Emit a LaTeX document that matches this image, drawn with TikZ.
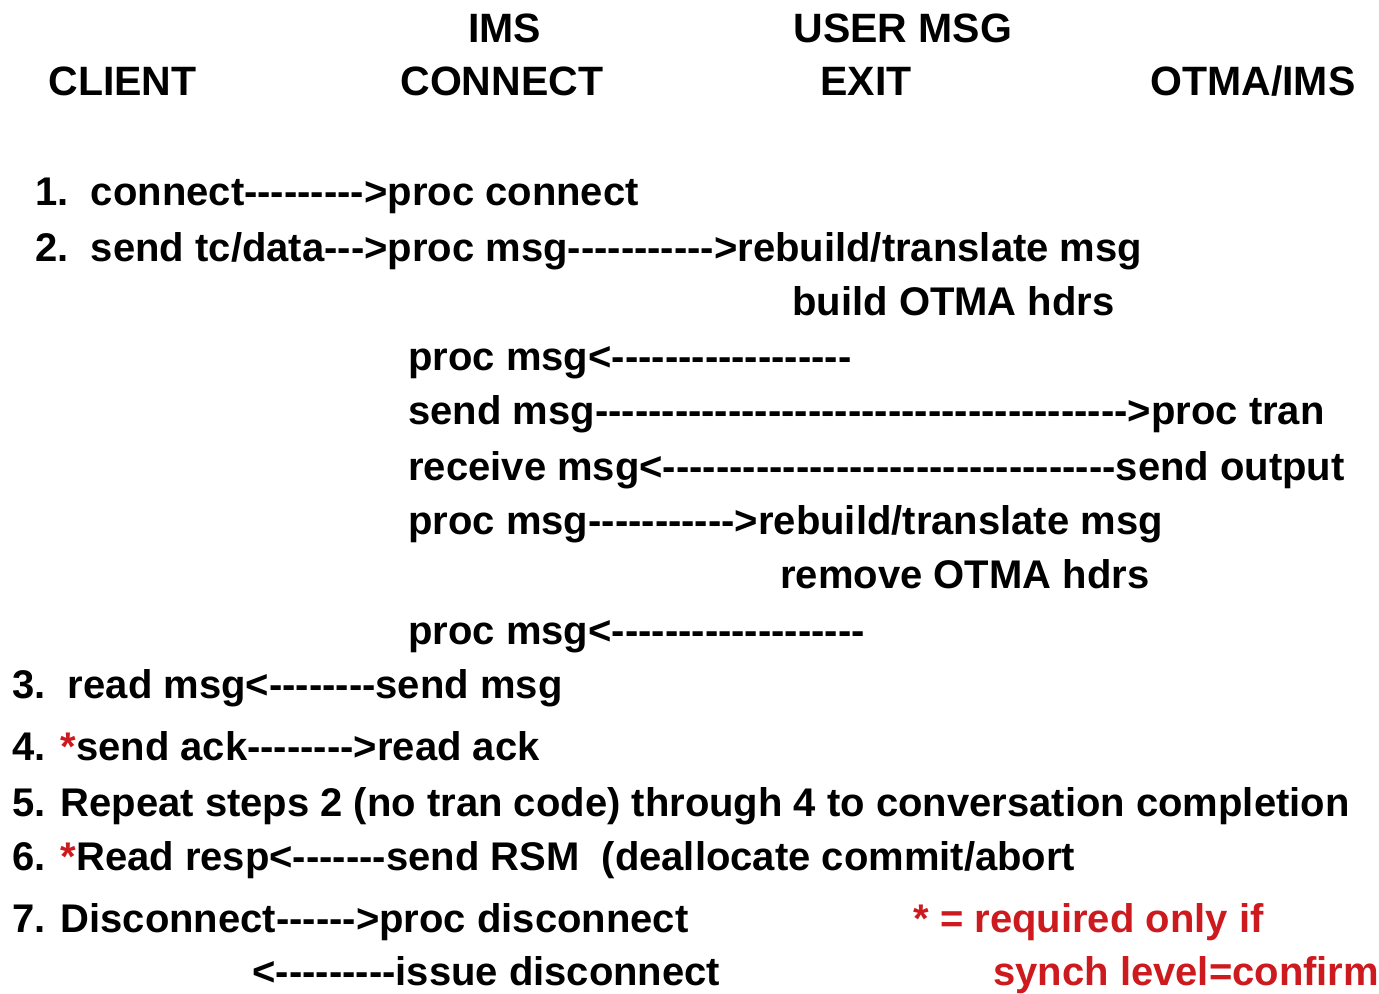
\documentclass[tikz,border=0pt]{standalone}
\usepackage{fontspec}
\newfontfamily\bodyfam{Liberation Sans}[Ligatures=NoCommon]
\usepackage{xcolor}
\definecolor{noteRed}{RGB}{204,26,30}
\newcommand{\redstar}{\textcolor{noteRed}{*}}
\tikzset{
  hdr/.style      = {anchor=base west,inner sep=0pt,font=\bodyfam\bfseries\fontsize{20.5}{24}\selectfont},
  msgline/.style  = {anchor=base west,inner sep=0pt,font=\bodyfam\bfseries\fontsize{20}{24}\selectfont},
  noteline/.style = {msgline,text=noteRed}
}

\begin{document}
\begin{tikzpicture}[x=0.5pt,y=-0.5pt]
  \useasboundingbox (0,0) rectangle (1379,993);
  % column heads
  \node[hdr] (hdrIms)     at (468,42)  {IMS};
  \node[hdr] (hdrUser)    at (793,42)  {USER MSG};
  \node[hdr] (hdrClient)  at (48,95)   {CLIENT};
  \node[hdr] (hdrConnect) at (400,95)  {CONNECT};
  \node[hdr] (hdrExit)    at (820,95)  {EXIT};
  \node[hdr] (hdrOtma)    at (1150,95) {OTMA/IMS};
  % message flow
  \node[msgline] (stepOne)  at (35,205)  {1.\ \ connect--------->proc connect};
  \node[msgline] (stepTwo)  at (35,261)  {2.\ \ send tc/data--->proc msg----------->rebuild/translate msg};
  \node[msgline] (buildHdr) at (792,315) {build OTMA hdrs};
  \node[msgline] (procA)    at (408,370) {proc msg<------------------};
  \node[msgline] (sendA)    at (408,424) {send msg---------------------------------------->proc tran};
  \node[msgline] (recvA)    at (408,480) {receive msg<----------------------------------send output};
  \node[msgline] (procB)    at (408,534) {proc msg----------->rebuild/translate msg};
  \node[msgline] (rmHdr)    at (780,588) {remove OTMA hdrs};
  \node[msgline] (procC)    at (408,644) {proc msg<-------------------};
  \node[msgline] (stepThr)  at (12,698)  {3.\ \ read msg<--------send msg};
  \node[msgline] (stepFour) at (12,760)  {4. \redstar send ack-------->read ack};
  \node[msgline] (stepFive) at (12,816)  {5. Repeat steps 2 (no tran code) through 4 to conversation completion};
  \node[msgline] (stepSix)  at (12,870)  {6. \redstar Read resp<-------send RSM\ \ (deallocate commit/abort};
  \node[msgline] (stepSev)  at (12,932)  {7. Disconnect------>proc disconnect};
  \node[msgline] (issueDc)  at (252,985) {<---------issue disconnect};
  % legend
  \node[noteline] (noteA) at (913,932) {* = required only if};
  \node[noteline] (noteB) at (993,985) {synch level=confirm};
\end{tikzpicture}
\end{document}
